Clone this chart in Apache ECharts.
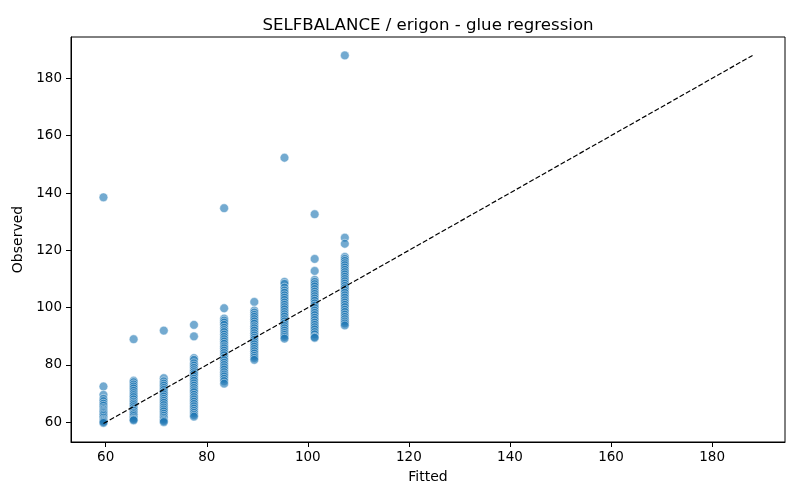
<!DOCTYPE html>
<html>
<head>
<meta charset="utf-8">
<script src="https://cdn.jsdelivr.net/npm/echarts@6/dist/echarts.min.js"></script>
<style>
html,body{margin:0;padding:0;background:#fff;}
#chart{width:800px;height:500px;}
</style>
</head>
<body>
<div id="chart"></div>
<script>
// Fitted values (one per column group)
const fittedLevels = [59.56, 65.53, 71.5, 77.47, 83.44, 89.41, 95.38, 101.35, 107.32];
// Observed values for each fitted level
const observed0 = [138.5, 72.5, 69.6, 68.2, 67.4, 66.5, 65.8, 65.0, 64.5, 64.0, 63.6, 63.2, 62.7, 62.2, 61.6, 61.0, 60.6, 60.2, 59.8];
const observed1 = [89.0, 74.5, 74.0, 73.2, 72.5, 71.8, 71.0, 70.2, 69.5, 68.8, 68.0, 67.2, 66.6, 66.0, 65.3, 64.6, 64.0, 63.3, 62.8, 62.2, 61.5, 61.0, 60.7];
const observed2 = [92.0, 75.4, 74.3, 73.5, 72.8, 72.0, 71.3, 70.5, 69.8, 69.0, 68.2, 67.5, 66.8, 66.0, 65.2, 64.5, 63.8, 63.0, 62.3, 61.6, 61.0, 60.5, 60.1];
const observed3 = [94.0, 90.0, 82.4, 81.8, 80.6, 79.8, 79.0, 78.2, 77.5, 76.8, 76.0, 75.2, 74.5, 73.6, 72.8, 72.0, 71.2, 70.5, 69.6, 68.8, 68.0, 67.2, 66.4, 65.6, 64.8, 64.0, 63.3, 62.6, 62.0];
const observed4 = [134.7, 99.8, 96.2, 95.5, 94.8, 94.0, 93.0, 92.2, 91.5, 90.6, 89.8, 89.0, 88.2, 87.4, 86.5, 85.8, 85.0, 84.2, 83.4, 82.5, 81.7, 80.8, 80.0, 79.2, 78.4, 77.5, 76.7, 76.0, 75.2, 74.4, 73.5];
const observed5 = [102.0, 99.0, 98.3, 97.5, 96.8, 96.0, 95.2, 94.4, 93.5, 92.8, 92.0, 91.1, 90.3, 89.5, 88.8, 88.0, 87.2, 86.4, 85.6, 84.8, 84.0, 83.2, 82.5, 81.8];
const observed6 = [152.3, 109.0, 108.3, 107.0, 106.0, 105.2, 104.3, 103.5, 102.7, 101.8, 101.0, 100.2, 99.4, 98.5, 97.7, 96.9, 96.0, 95.2, 94.4, 93.6, 92.8, 92.0, 91.2, 90.5, 89.8, 89.2];
const observed7 = [132.6, 117.0, 112.8, 109.7, 109.0, 108.2, 107.4, 106.5, 105.6, 104.8, 104.0, 103.2, 102.4, 101.5, 100.7, 99.9, 99.0, 98.2, 97.4, 96.5, 95.7, 94.8, 94.0, 93.2, 92.4, 91.5, 90.7, 89.8, 89.5];
const observed8 = [188.0, 124.4, 122.3, 117.7, 117.0, 116.3, 115.5, 114.8, 114.0, 113.2, 112.4, 111.6, 110.8, 110.0, 109.2, 108.4, 107.6, 106.8, 106.0, 105.2, 104.3, 103.5, 102.6, 101.8, 101.0, 100.2, 99.3, 98.5, 97.6, 96.8, 96.0, 95.2, 94.5, 93.8];
const observedGroups = [observed0, observed1, observed2, observed3, observed4, observed5, observed6, observed7, observed8];
// Tick labels
const xTicks = [60, 80, 100, 120, 140, 160, 180];
const yTicks = [60, 80, 100, 120, 140, 160, 180];

const points = [];
observedGroups.forEach((g, i) => g.forEach(v => points.push([fittedLevels[i], v])));
const allVals = points.flat();
const lo = Math.min(...allVals), hi = Math.max(...allVals);
const pad = (hi - lo) * 0.05;

const font = 'DejaVu Sans';
const chart = echarts.init(document.getElementById('chart'));
const axisCommon = {
  type: 'value',
  min: lo - pad,
  max: hi + pad,
  nameLocation: 'middle',
  nameTextStyle: { fontFamily: font, fontSize: 14, color: '#000' },
  axisLine: { show: true, onZero: false, lineStyle: { color: '#000', width: 1 } },
  splitLine: { show: false },
};
chart.setOption({
  animation: false,
  backgroundColor: '#fff',
  title: {
    text: 'SELFBALANCE / erigon - glue regression',
    left: 423, top: 12, textAlign: 'center',
    textStyle: { fontFamily: font, fontSize: 16.6, fontWeight: 'normal', color: '#000' }
  },
  grid: { left: 71, right: 15, top: 37, bottom: 58, show: true, borderColor: '#000', borderWidth: 1, backgroundColor: 'transparent' },
  xAxis: Object.assign({}, axisCommon, {
    name: 'Fitted', nameGap: 28,
    axisTick: { show: true, inside: false, length: 5, customValues: xTicks, lineStyle: { color: '#000' } },
    axisLabel: { customValues: xTicks, margin: 8, fontFamily: font, fontSize: 13.5, color: '#000' }
  }),
  yAxis: Object.assign({}, axisCommon, {
    name: 'Observed', nameGap: 35,
    axisTick: { show: true, inside: false, length: 5, customValues: yTicks, lineStyle: { color: '#000' } },
    axisLabel: { customValues: yTicks, margin: 9, fontFamily: font, fontSize: 13.5, color: '#000' }
  }),
  series: [
    {
      type: 'scatter',
      data: points,
      symbolSize: 8.8,
      itemStyle: { color: 'rgba(31,119,180,0.78)', borderColor: '#fff', borderWidth: 0.6 },
      z: 2
    },
    {
      type: 'line',
      data: [[lo, lo], [hi, hi]],
      showSymbol: false,
      symbol: 'none',
      lineStyle: { color: '#000', width: 1.2, type: [5, 2.2] },
      z: 3
    }
  ]
});
</script>
</body>
</html>
